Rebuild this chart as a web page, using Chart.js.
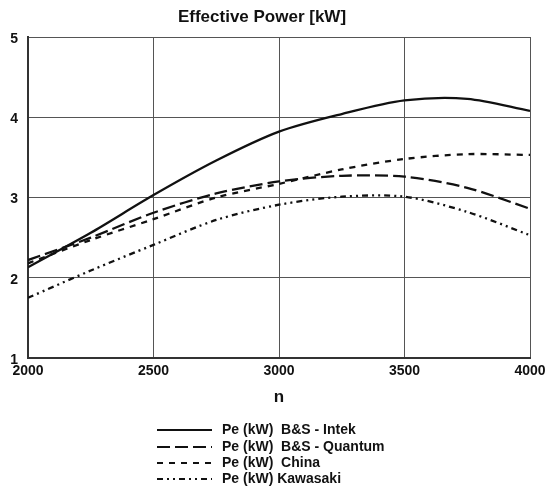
<!DOCTYPE html>
<html>
<head>
<meta charset="utf-8">
<script src="https://cdn.jsdelivr.net/npm/chart.js@4/dist/chart.umd.min.js"></script>
<style>
  body { margin: 0; background: #fff; }
  canvas { display: block; }
</style>
</head>
<body>
<canvas id="powerChart" width="552" height="490"></canvas>
<script>
// Data
const rpm = [2000, 2250, 2500, 2750, 3000, 3250, 3500, 3750, 4000];
const intek = [2.13, 2.56, 3.03, 3.46, 3.82, 4.04, 4.21, 4.23, 4.08];
const quantum = [2.22, 2.50, 2.81, 3.05, 3.20, 3.27, 3.26, 3.12, 2.86];
const china = [2.18, 2.47, 2.73, 3.00, 3.17, 3.35, 3.48, 3.54, 3.53];
const kawasaki = [1.75, 2.09, 2.41, 2.72, 2.91, 3.01, 3.01, 2.82, 2.53];
const xTicks = [2000, 2500, 3000, 3500, 4000];
const yTicks = [1, 2, 3, 4, 5];

const FONT = "'Liberation Sans', Arial, sans-serif";
const INK = '#111';

function series(values) {
    return values.map((v, i) => ({ x: rpm[i], y: v }));
}

// Title + stacked legend with line samples, drawn under the axis title
const titleAndLegend = {
    id: 'titleAndLegend',
    afterDraw(chart) {
        const ctx = chart.ctx;
        ctx.save();
        ctx.fillStyle = INK;
        ctx.font = `bold 17px ${FONT}`;
        ctx.textAlign = 'center';
        ctx.textBaseline = 'middle';
        ctx.fillText('Effective Power [kW]', 262, 17);

        const rowY = [430, 447, 463, 479];
        ctx.font = `bold 14px ${FONT}`;
        ctx.textAlign = 'left';
        chart.data.datasets.forEach((ds, i) => {
            const y = rowY[i];
            ctx.strokeStyle = ds.borderColor;
            ctx.lineWidth = 2;
            ctx.setLineDash(ds.borderDash || []);
            ctx.beginPath();
            ctx.moveTo(157, y);
            ctx.lineTo(212, y);
            ctx.stroke();
            ctx.setLineDash([]);
            ctx.fillText(ds.label, 222, y);
        });
        ctx.restore();
    }
};

const common = {
    fill: false,
    borderColor: INK,
    borderWidth: 2.3,
    pointRadius: 0,
    tension: 0.3
};

new Chart(document.getElementById('powerChart'), {
    type: 'line',
    data: {
        datasets: [
            { ...common, label: 'Pe (kW)  B&S - Intek', data: series(intek) },
            { ...common, label: 'Pe (kW)  B&S - Quantum', data: series(quantum), borderDash: [13, 5] },
            { ...common, label: 'Pe (kW)  China', data: series(china), borderDash: [6, 6] },
            { ...common, label: 'Pe (kW) Kawasaki', data: series(kawasaki), borderDash: [6, 4, 2, 4, 2, 4] }
        ]
    },
    options: {
        responsive: false,
        animation: false,
        events: [],
        layout: { padding: { top: 37, right: 22, bottom: 80, left: 0 } },
        plugins: {
            legend: { display: false },
            title: { display: false },
            tooltip: { enabled: false }
        },
        scales: {
            x: {
                type: 'linear',
                min: 2000,
                max: 4000,
                afterBuildTicks: (scale) => { scale.ticks = xTicks.map(v => ({ value: v })); },
                afterFit: (scale) => { scale.height = 52; },
                ticks: {
                    color: INK,
                    padding: 5,
                    maxRotation: 0,
                    callback: (v) => String(v),
                    font: { family: FONT, size: 14, weight: 'bold' }
                },
                grid: { color: '#555', lineWidth: 1, drawTicks: false },
                border: { color: '#333', width: 2 },
                title: {
                    display: true,
                    text: 'n',
                    color: INK,
                    padding: { top: 0, bottom: 2 },
                    font: { family: FONT, size: 17, weight: 'bold' }
                }
            },
            y: {
                min: 1,
                max: 5,
                afterBuildTicks: (scale) => { scale.ticks = yTicks.map(v => ({ value: v })); },
                afterFit: (scale) => { scale.width = 28; },
                ticks: {
                    color: INK,
                    padding: 10,
                    labelOffset: 2,
                    callback: (v) => String(v),
                    font: { family: FONT, size: 14, weight: 'bold' }
                },
                grid: { color: '#555', lineWidth: 1, drawTicks: false },
                border: { color: '#333', width: 2 }
            }
        }
    },
    plugins: [titleAndLegend]
});
</script>
</body>
</html>
